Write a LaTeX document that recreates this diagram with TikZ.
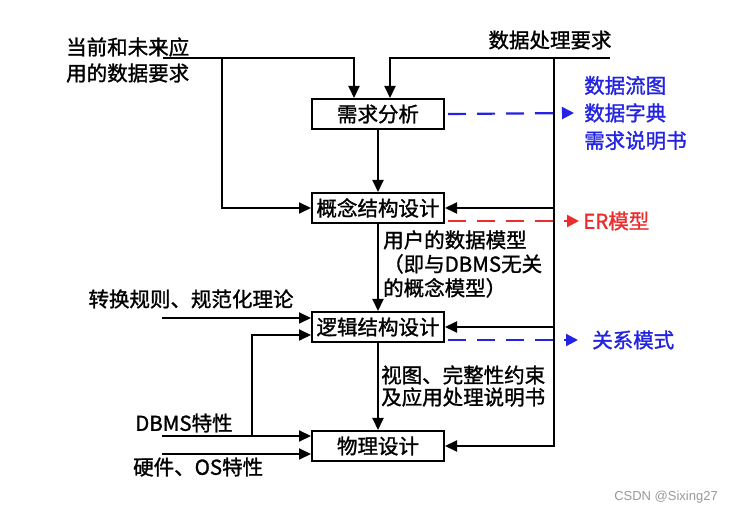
\documentclass[tikz,border=0pt]{standalone}
\usepackage{fontspec}
\setmainfont{Noto Sans CJK SC}[FakeBold=1.3]
\newfontfamily\wmfont{Liberation Sans}
\usepackage{tikz}
\usetikzlibrary{calc,arrows.meta}
\definecolor{outblue}{RGB}{35,35,225}
\definecolor{outred}{RGB}{235,45,45}
\tikzset{
	stage/.style={draw,line width=2pt,minimum width=132pt,minimum height=30pt,inner sep=0pt},
	flow/.style={line width=2pt,-{Triangle[length=12pt,width=11pt]}},
	outflow/.style={line width=2.2pt,dash pattern=on 18pt off 11pt,-{Triangle[length=12pt,width=12pt]}},
	lbl/.style={inner sep=0pt,align=left}
}

\begin{document}
\begin{tikzpicture}[x=1pt,y={(0,-1pt)},font=\fontsize{20.5}{23}\selectfont]
	\useasboundingbox (0,0) rectangle (732,513);
	% design stages
	\node[stage] (req) at (378,114) {需求分析};
	\node[stage] (concept) at (378,208) {概念结构设计};
	\node[stage] (logic) at (378,327) {逻辑结构设计};
	\node[stage] (phys) at (378,446) {物理设计};
	% inputs
	\node[lbl,font=\fontsize{20.5}{26}\selectfont] (txtdata) at (66,60) [anchor=west] {当前和未来应\\用的数据要求};
	\node[lbl] (txtproc) at (550,40) {数据处理要求};
	\node[lbl] (txtrule) at (191,299) {转换规则、规范化理论};
	\node[lbl] (txtdbms) at (135,423) [anchor=west] {DBMS特性};
	\node[lbl] (txthw) at (133,467) [anchor=west] {硬件、OS特性};
	\coordinate (inA) at (163,58);
	\coordinate (brA) at (222,58);
	\coordinate (inB) at (610,58);
	\coordinate (bus) at (554,58);
	\coordinate (inR) at (162,318);
	\coordinate (inD) at (162,436);
	\coordinate (brD) at (252,436);
	\coordinate (inH) at (162,454);
	\draw[flow] (inA) -| ($(req.north)+(-24,0)$);
	\draw[flow] (brA) |- (concept.west);
	\draw[flow] (inB) -| ($(req.north)+(12,0)$);
	\draw[flow] (bus) |- (phys.east);
	\draw[flow] (bus |- concept.east) -- (concept.east);
	\draw[flow] (bus |- logic.east) -- (logic.east);
	\draw[flow] (req) -- (concept);
	\draw[flow] (concept) -- (logic);
	\draw[flow] (logic) -- (phys);
	\draw[flow] (inR) -- ($(logic.west)+(0,-9)$);
	\draw[flow] (brD) |- ($(logic.west)+(0,8)$);
	\draw[flow] (inD) -- ($(phys.west)+(0,-10)$);
	\draw[flow] (inH) -- ($(phys.west)+(0,8)$);
	% intermediate results
	\node[lbl,font=\fontsize{20.5}{24}\selectfont] (txtuser) at (383,264) [anchor=west] {用户的数据模型\\（即与DBMS无关\\的概念模型）};
	\node[lbl,font=\fontsize{20.5}{22}\selectfont] (txtview) at (381,386) [anchor=west] {视图、完整性约束\\及应用处理说明书};
	% outputs
	\node[lbl,text=outblue,font=\fontsize{20.5}{27.5}\selectfont] (txtout) at (584,113) [anchor=west] {数据流图\\数据字典\\需求说明书};
	\node[lbl,text=outred] (txter) at (583,221) [anchor=west] {ER模型};
	\node[lbl,text=outblue] (txtrel) at (592,340) [anchor=west] {关系模式};
	\draw[outflow,outblue] ($(req.east)+(3,0)$) -- ($(txtout.west)+(-10,0)$);
	\draw[outflow,outred] ($(concept.east)+(3,13)$) -- ($(txter.west)+(-4,0)$);
	\draw[outflow,outblue] ($(logic.east)+(3,13)$) -- ($(txtrel.west)+(-14,0)$);
	\node[lbl,text=black!40,font=\wmfont\fontsize{13}{15}\selectfont] (mark) at (718,497) [anchor=east] {CSDN @Sixing27};
\end{tikzpicture}
\end{document}
